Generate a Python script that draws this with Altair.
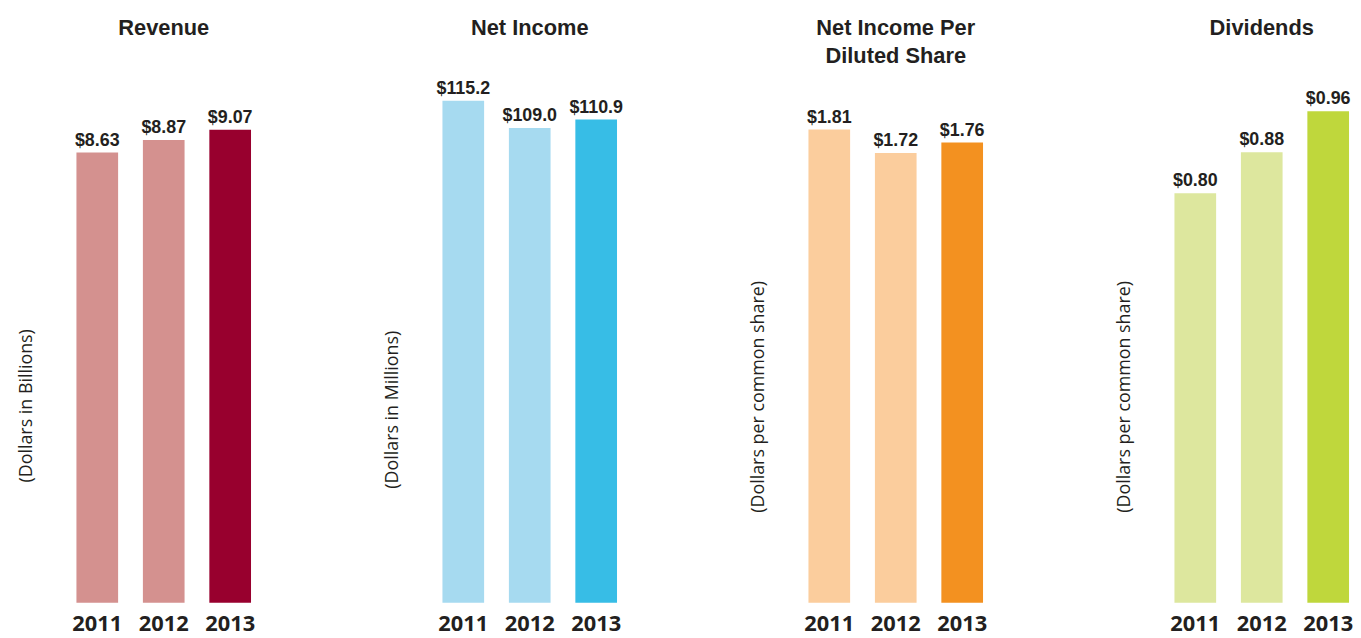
import altair as alt
import pandas as pd

years = ["2011", "2012", "2013"]
revenue = [8.63, 8.87, 9.07]
net_income = [115.2, 109.0, 110.9]
eps = [1.81, 1.72, 1.76]
dividends = [0.80, 0.88, 0.96]

panels = [
    dict(title="Revenue", axis="(Dollars in Billions)", values=revenue, fmt=".2f",
         colors=["#d4918f", "#d4918f", "#98002e"], dmax=10.06, ty=330, toff=38),
    dict(title="Net Income", axis="(Dollars in Millions)", values=net_income, fmt=".1f",
         colors=["#a6daf0", "#a6daf0", "#37bde6"], dmax=120.45, ty=334, toff=38),
    dict(title=["Net Income Per", "Diluted Share"], axis="(Dollars per common share)", values=eps, fmt=".2f",
         colors=["#fbcd9d", "#fbcd9d", "#f39120"], dmax=2.007, ty=321, toff=10),
    dict(title="Dividends", axis="(Dollars per common share)", values=dividends, fmt=".2f",
         colors=["#dde79e", "#dde79e", "#bfd73c"], dmax=1.025, ty=321, toff=38),
]

TXT = "#231f20"
NARROW = "Liberation Sans, Arial, sans-serif"
SANS = "Open Sans, Noto Sans, sans-serif"

charts = []
for p in panels:
    df = pd.DataFrame({"year": years, "value": p["values"]})
    base = alt.Chart(df).transform_calculate(
        label="'$' + format(datum.value, '" + p["fmt"] + "')"
    ).encode(
        x=alt.X("year:N", sort=years,
                scale=alt.Scale(paddingInner=0.373, paddingOuter=0),
                axis=alt.Axis(title=None, labelAngle=0, domain=False, ticks=False,
                              labelFont=SANS, labelFontWeight="bold", labelFontSize=22,
                              labelColor=TXT, labelPadding=11)),
        y=alt.Y("value:Q", scale=alt.Scale(domain=[0, p["dmax"]], nice=False, zero=True),
                axis=alt.Axis(title=p["axis"], labels=False, ticks=False, domain=False, grid=False,
                              titleFont=SANS, titleFontSize=18, titleFontWeight="normal",
                              titleColor=TXT, titleAngle=-90, titleX=-50, titleY=p["ty"],
                              titleAlign="center", titleBaseline="middle")),
    )
    bars = base.mark_bar().encode(
        color=alt.Color("year:N", scale=alt.Scale(domain=years, range=p["colors"]), legend=None)
    )
    text = base.mark_text(font=NARROW, fontWeight="bold", fontSize=18, color=TXT,
                          baseline="alphabetic", dy=-7).encode(text="label:N")
    ch = alt.layer(bars, text).properties(
        width=176, height=529,
        title=alt.TitleParams(text=p["title"], font=NARROW, fontSize=22, fontWeight="bold",
                              color=TXT, anchor="middle", frame="group", offset=p["toff"],
                              lineHeight=28),
    ).resolve_scale(color="independent")
    charts.append(ch)

chart = alt.hconcat(*charts, spacing=193, bounds="flush").resolve_scale(
    color="independent", y="independent", x="independent"
).properties(
    padding={"left": 10, "top": 7, "right": 0, "bottom": 0}
).configure_view(stroke=None).configure_axis(grid=False)

chart.save("out.html", embed_options={"renderer": "svg", "actions": False})
